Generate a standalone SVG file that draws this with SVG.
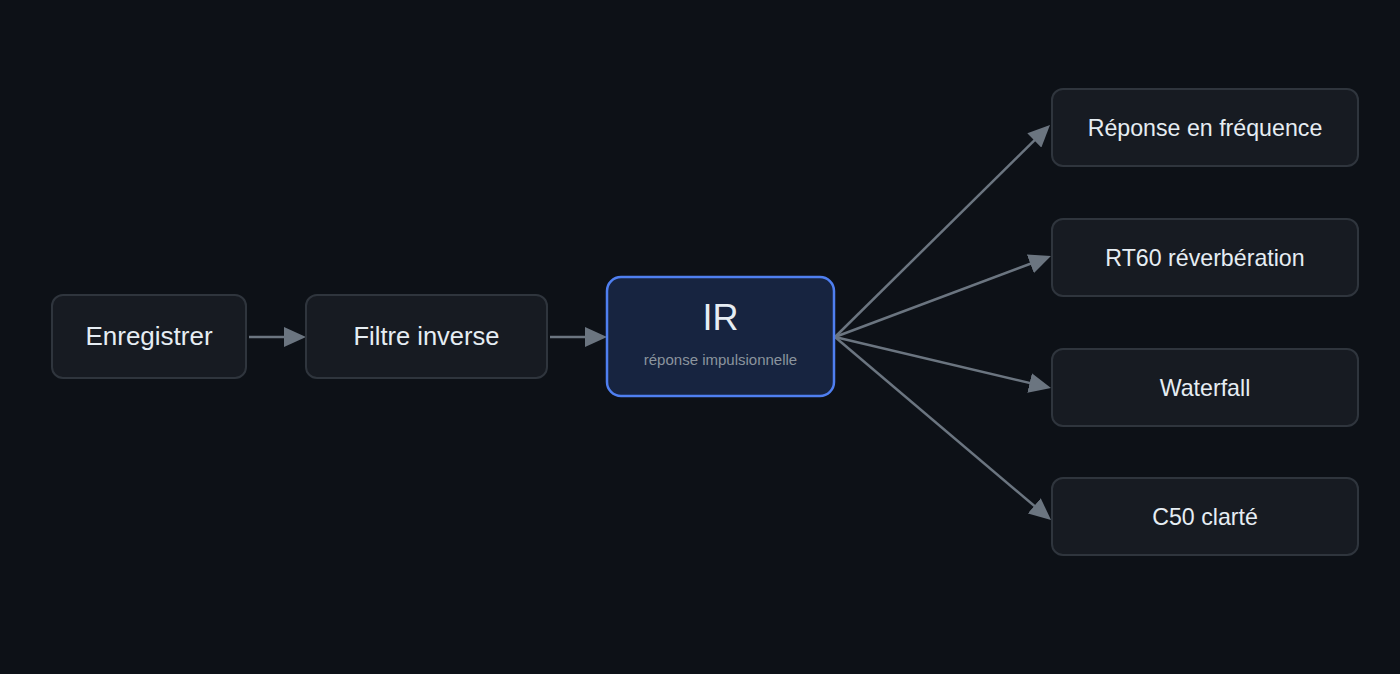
<svg xmlns="http://www.w3.org/2000/svg" width="1400" height="674" viewBox="0 0 1400 674">
  <style>
    .node { fill: #171b22; stroke: #2f353d; stroke-width: 2; }
    .main { fill: #172440; stroke: #4f7ff0; stroke-width: 2.5; }
    .lbl { font-family: "Liberation Sans", Arial, sans-serif; fill: #e6edf3; text-anchor: middle; }
    .sub { font-family: "Liberation Sans", Arial, sans-serif; fill: #8b949e; text-anchor: middle; font-size: 15px; }
    .edge { stroke: #6b7580; stroke-width: 2.5; fill: none; marker-end: url(#arr); }
  </style>
  <defs>
    <marker id="arr" viewBox="0 0 22 20" refX="15" refY="10" markerWidth="22" markerHeight="20" markerUnits="userSpaceOnUse" orient="auto">
      <path d="M0,0 L22,10 L0,20 z" fill="#6b7580"/>
    </marker>
  </defs>
  <rect width="1400" height="674" fill="#0d1117"/>
  <g id="connectors">
    <line class="edge" x1="249" y1="337" x2="299" y2="337"/>
    <line class="edge" x1="550" y1="337" x2="600" y2="337"/>
    <line class="edge" x1="835" y1="337" x2="1045" y2="129.9"/>
    <line class="edge" x1="835" y1="337" x2="1044.4" y2="258.5"/>
    <line class="edge" x1="835" y1="337" x2="1044.2" y2="386.4"/>
    <line class="edge" x1="835" y1="337" x2="1045.7" y2="515.5"/>
  </g>
  <g id="enregistrer">
    <rect class="node" x="52" y="295" width="194" height="83" rx="11"/>
    <text class="lbl" x="149" y="345" font-size="26">Enregistrer</text>
  </g>
  <g id="filtre">
    <rect class="node" x="306" y="295" width="241" height="83" rx="11"/>
    <text class="lbl" x="426.5" y="345" font-size="25.5">Filtre inverse</text>
  </g>
  <g id="ir">
    <rect class="main" x="607" y="277" width="227" height="119" rx="14"/>
    <text class="lbl" x="720.5" y="330" font-size="36">IR</text>
    <text class="sub" x="720.5" y="365">réponse impulsionnelle</text>
  </g>
  <g id="freq">
    <rect class="node" x="1052" y="89" width="306" height="77" rx="11"/>
    <text class="lbl" x="1205" y="136" font-size="23.2">Réponse en fréquence</text>
  </g>
  <g id="rt60">
    <rect class="node" x="1052" y="219" width="306" height="77" rx="11"/>
    <text class="lbl" x="1205" y="266" font-size="23.2">RT60 réverbération</text>
  </g>
  <g id="waterfall">
    <rect class="node" x="1052" y="349" width="306" height="77" rx="11"/>
    <text class="lbl" x="1205" y="396" font-size="23.2">Waterfall</text>
  </g>
  <g id="c50">
    <rect class="node" x="1052" y="478" width="306" height="77" rx="11"/>
    <text class="lbl" x="1205" y="525" font-size="23.2">C50 clarté</text>
  </g>
</svg>
